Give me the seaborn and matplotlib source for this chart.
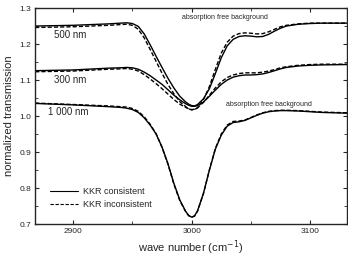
import matplotlib
matplotlib.use("Agg")
import matplotlib.pyplot as plt
from matplotlib.ticker import MultipleLocator
import seaborn as sns
import pandas as pd

wavenumber = [2868, 2900, 2930, 2940, 2945, 2950, 2955, 2960, 2965, 2970, 2975,
              2980, 2985, 2990, 2995, 2997.5, 3000, 3002.5, 3005, 3010, 3015, 3020, 3025,
              3030, 3035, 3040, 3045, 3050, 3055, 3060, 3065, 3070, 3075,
              3080, 3090, 3100, 3110, 3131]

t500_cons = [1.250, 1.252, 1.256, 1.258, 1.259, 1.257, 1.249, 1.228, 1.198, 1.166, 1.135,
             1.105, 1.078, 1.055, 1.039, 1.033, 1.029, 1.028, 1.032, 1.048, 1.076, 1.118, 1.162,
             1.195, 1.213, 1.221, 1.223, 1.222, 1.220, 1.221, 1.227, 1.236, 1.244,
             1.250, 1.255, 1.257, 1.258, 1.258]
t500_inc = [1.246, 1.248, 1.252, 1.254, 1.255, 1.252, 1.241, 1.217, 1.185, 1.152, 1.119,
            1.088, 1.062, 1.040, 1.026, 1.020, 1.017, 1.018, 1.023, 1.046, 1.082, 1.130, 1.175,
            1.205, 1.222, 1.229, 1.231, 1.230, 1.228, 1.229, 1.234, 1.241, 1.248,
            1.252, 1.256, 1.258, 1.258, 1.258]

t300_cons = [1.126, 1.128, 1.133, 1.134, 1.135, 1.134, 1.130, 1.122, 1.112, 1.100, 1.088,
             1.073, 1.058, 1.045, 1.034, 1.030, 1.027, 1.027, 1.029, 1.039, 1.055, 1.072, 1.088,
             1.100, 1.108, 1.112, 1.114, 1.114, 1.115, 1.117, 1.121, 1.126, 1.131,
             1.135, 1.139, 1.141, 1.142, 1.143]
t300_inc = [1.123, 1.125, 1.130, 1.131, 1.132, 1.130, 1.125, 1.115, 1.103, 1.090, 1.076,
            1.061, 1.046, 1.033, 1.024, 1.020, 1.018, 1.019, 1.023, 1.038, 1.058, 1.078, 1.095,
            1.107, 1.114, 1.118, 1.120, 1.120, 1.120, 1.122, 1.125, 1.129, 1.134,
            1.137, 1.141, 1.143, 1.144, 1.144]

t1000_cons = [1.035, 1.031, 1.026, 1.024, 1.022, 1.018, 1.010, 0.995, 0.975, 0.950, 0.914,
              0.868, 0.813, 0.767, 0.735, 0.724, 0.719, 0.723, 0.737, 0.786, 0.850, 0.908, 0.947,
              0.972, 0.982, 0.984, 0.988, 0.995, 1.002, 1.008, 1.012, 1.014, 1.015,
              1.015, 1.014, 1.012, 1.010, 1.008]
t1000_inc = [1.036, 1.032, 1.028, 1.026, 1.025, 1.021, 1.013, 0.998, 0.977, 0.951, 0.913,
             0.866, 0.811, 0.765, 0.734, 0.723, 0.719, 0.722, 0.736, 0.785, 0.851, 0.910, 0.950,
             0.975, 0.985, 0.986, 0.989, 0.996, 1.003, 1.009, 1.013, 1.015, 1.016,
             1.016, 1.015, 1.013, 1.011, 1.009]

series = [
    ("500 nm", "KKR consistent", t500_cons),
    ("500 nm", "KKR inconsistent", t500_inc),
    ("300 nm", "KKR consistent", t300_cons),
    ("300 nm", "KKR inconsistent", t300_inc),
    ("1 000 nm", "KKR consistent", t1000_cons),
    ("1 000 nm", "KKR inconsistent", t1000_inc),
]
rows = []
for film, kind, vals in series:
    for x, y in zip(wavenumber, vals):
        rows.append({"x": x, "y": y, "film": film, "kind": kind})
df = pd.DataFrame(rows)

sns.set_style("ticks")
plt.rcParams["font.family"] = ["Liberation Sans", "DejaVu Sans"]

fig = plt.figure(figsize=(3.48, 2.59), dpi=100)
ax = fig.add_axes([0.101, 0.135, 0.896, 0.834])

sns.lineplot(data=df, x="x", y="y", units="film", estimator=None,
             style="kind", dashes={"KKR consistent": "", "KKR inconsistent": (3, 1.5)},
             color="black", linewidth=1.0, ax=ax)

ax.set_xlim(2868, 3131)
ax.set_ylim(0.7, 1.3)
ax.xaxis.set_major_locator(MultipleLocator(100))
ax.xaxis.set_minor_locator(MultipleLocator(50))
ax.yaxis.set_major_locator(MultipleLocator(0.1))
ax.yaxis.set_minor_locator(MultipleLocator(0.05))
ax.yaxis.set_major_formatter(plt.FormatStrFormatter("%.1f"))
ax.tick_params(which="both", direction="in", top=True, right=True, labelsize=6, pad=3)
ax.tick_params(which="major", length=3, width=0.8)
ax.tick_params(which="minor", length=2, width=0.6)
for s in ax.spines.values():
    s.set_linewidth(1.0)

ax.set_xlabel("wave number (cm$^{-1}$)", fontsize=8, labelpad=2)
ax.set_ylabel("normalized transmission", fontsize=8, labelpad=4)

ax.text(2884, 1.225, "500 nm", fontsize=7, va="center")
ax.text(2884, 1.100, "300 nm", fontsize=7, va="center")
ax.text(2879, 1.011, "1 000 nm", fontsize=7, va="center")
ax.text(3028, 1.275, "absorption free background", fontsize=5, ha="center", va="center")
ax.text(3065, 1.033, "absorption free background", fontsize=5, ha="center", va="center")

leg = ax.legend(loc="lower left", bbox_to_anchor=(0.02, 0.03), frameon=False,
                fontsize=6.5, handlelength=3.2, handletextpad=0.5, labelspacing=0.5)
for line in leg.get_lines():
    line.set_linewidth(0.8)

fig.savefig("out.png", dpi=100)
